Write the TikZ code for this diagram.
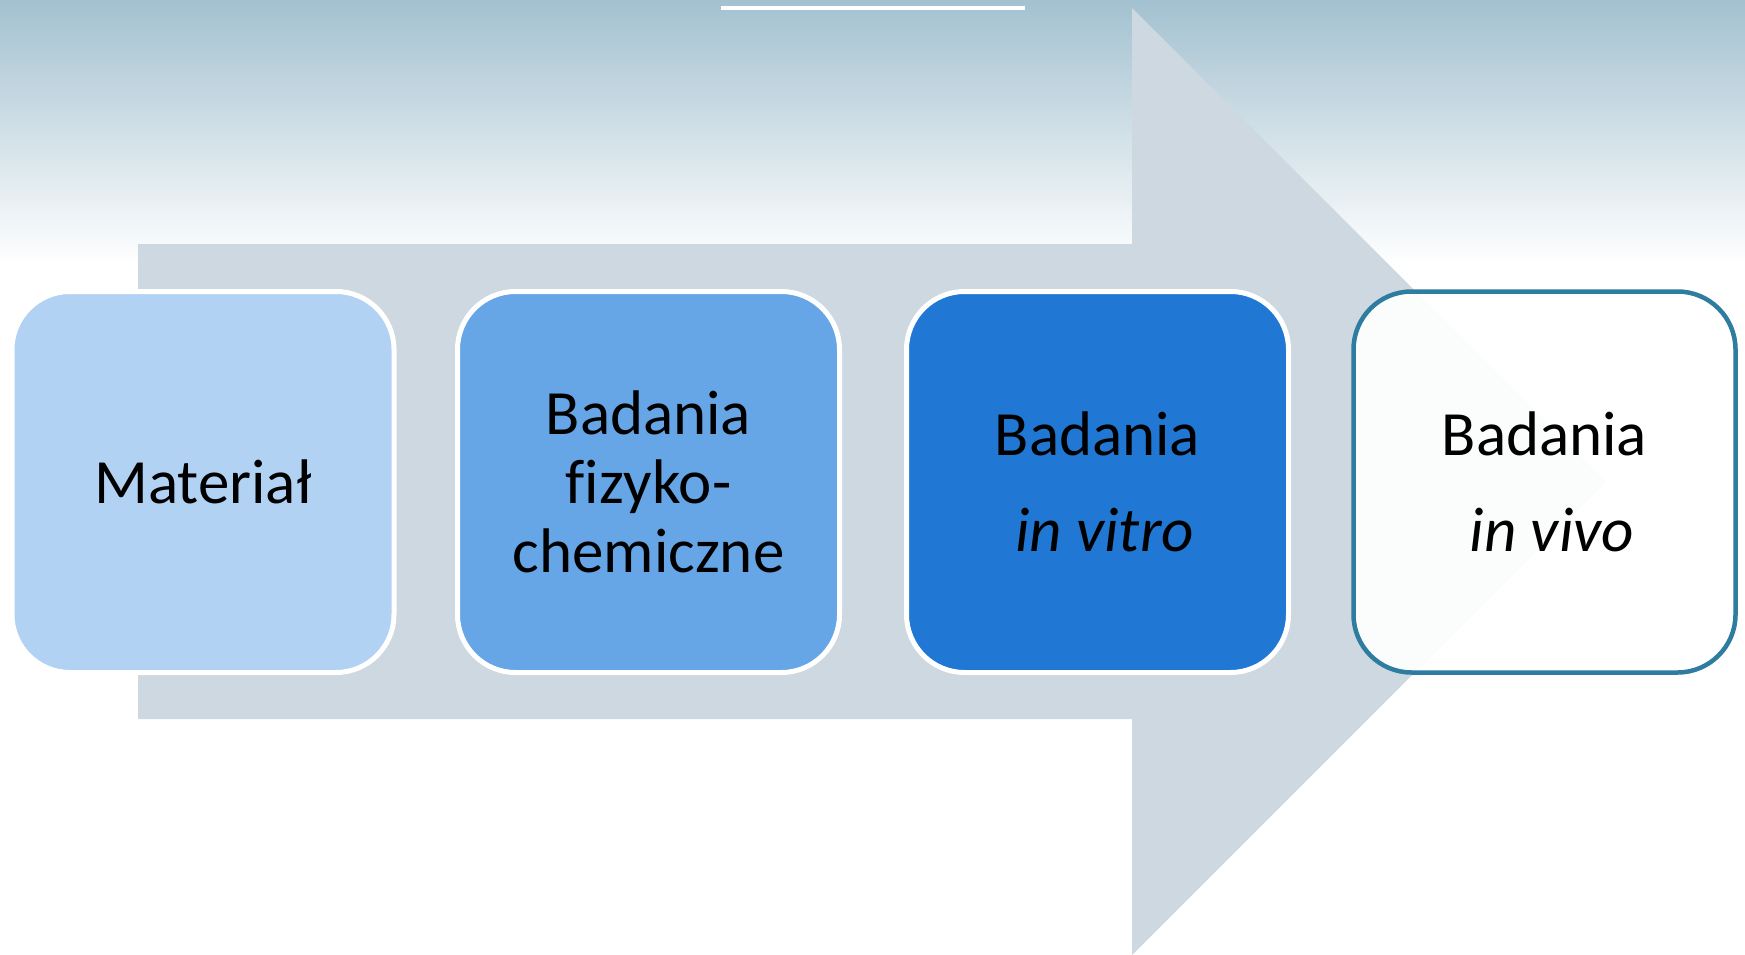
\documentclass[tikz,border=0pt]{standalone}
\usepackage{fontspec}
\setmainfont{Carlito}[Ligatures=NoCommon]
\definecolor{bgtop}{HTML}{A3C1D0}
\definecolor{arrowgray}{HTML}{CDD8E0}
\definecolor{boxA}{HTML}{B1D2F3}
\definecolor{boxB}{HTML}{66A5E6}
\definecolor{boxC}{HTML}{2178D4}
\definecolor{teal}{HTML}{2E7C9F}
\tikzset{
  stage/.style={rectangle, rounded corners=58pt, minimum width=382pt, minimum height=381pt,
    line width=5pt, draw=white, align=center, text=black, inner sep=0pt},
  tight/.style={font=\fontsize{63pt}{69pt}\selectfont},
  loose/.style={font=\fontsize{63pt}{96pt}\selectfont},
}
\begin{document}
\begin{tikzpicture}[x=1pt,y=-1pt]
\useasboundingbox (0,0) rectangle (1745,955);
\fill[white] (0,0) rectangle (1745,955);
\shade[top color=bgtop, bottom color=white] (0,0) rectangle (1745,265);
% title underline (title text cut off above)
\fill[white] (721,6) rectangle (1025,10);
% big background arrow
\fill[arrowgray] (138,244) -- (1132,244) -- (1132,8) -- (1605.5,481.5) -- (1132,955) -- (1132,719) -- (138,719) -- cycle;
% stages
\node[stage, fill=boxA, tight] (m) at (203,482) {Materiał};
\node[stage, fill=boxB, tight] (f) at (648.5,482) {Badania\\fizyko-\\chemiczne};
\node[stage, fill=boxC, loose] (v) at (1097.5,482) {Badania\\\hspace*{0.23em}\textit{in vitro}};
\node[stage, draw=teal, line width=4.5pt, fill=white, fill opacity=0.93, text opacity=1, loose] (w) at (1544.5,482) {Badania\\\hspace*{0.23em}\textit{in vivo}};
\end{tikzpicture}
\end{document}
